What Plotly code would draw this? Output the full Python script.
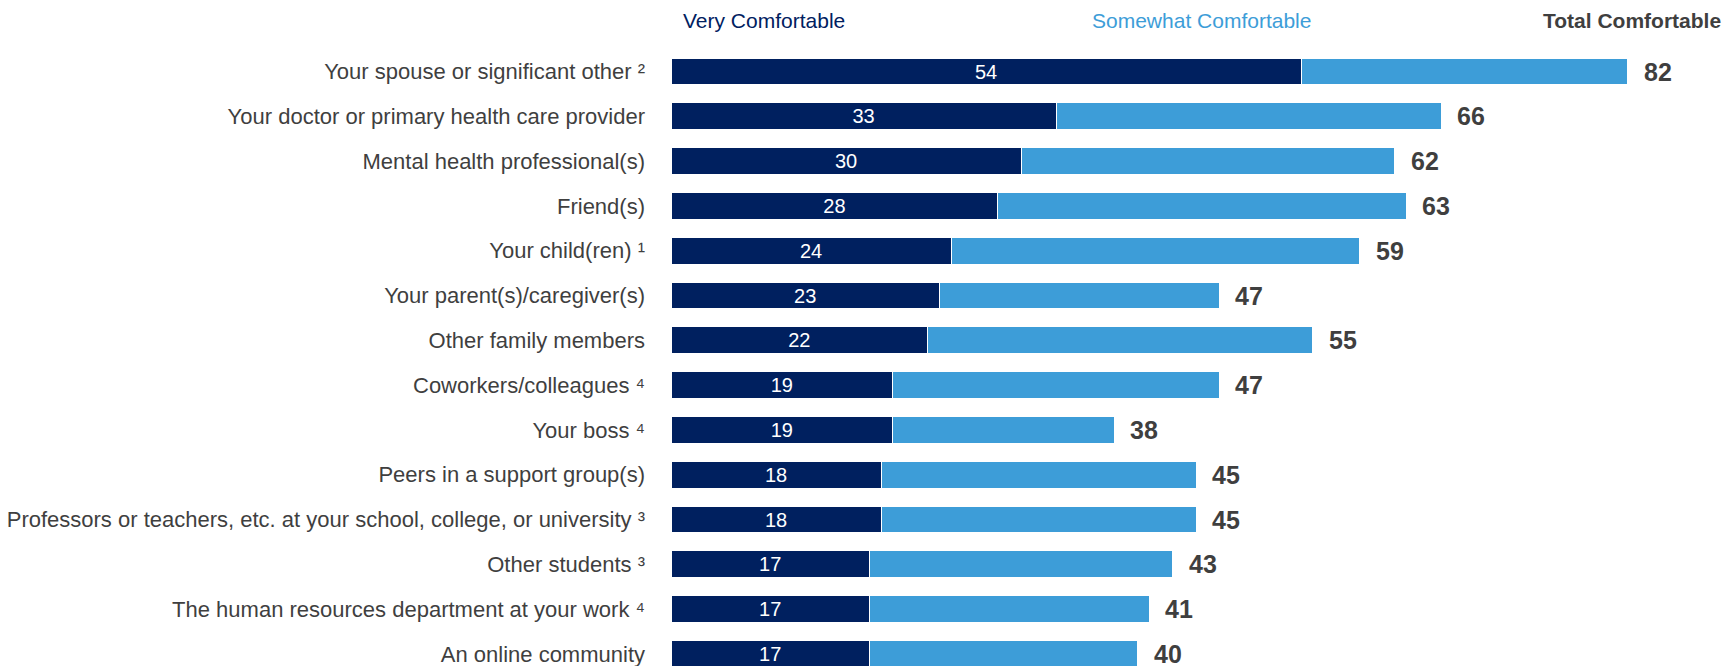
import plotly.graph_objects as go

# Survey groups, top to bottom
groups = [
    "Your spouse or significant other ²",
    "Your doctor or primary health care provider",
    "Mental health professional(s)",
    "Friend(s)",
    "Your child(ren) ¹",
    "Your parent(s)/caregiver(s)",
    "Other family members",
    "Coworkers/colleagues ⁴",
    "Your boss ⁴",
    "Peers in a support group(s)",
    "Professors or teachers, etc. at your school, college, or university ³",
    "Other students ³",
    "The human resources department at your work ⁴",
    "An online community",
]
very_comfortable = [54, 33, 30, 28, 24, 23, 22, 19, 19, 18, 18, 17, 17, 17]
total_comfortable = [82, 66, 62, 63, 59, 47, 55, 47, 38, 45, 45, 43, 41, 40]
somewhat_comfortable = [t - v for t, v in zip(total_comfortable, very_comfortable)]

NAVY = "#00205F"
LIGHT = "#3D9DD8"
DARK = "#3F3F3F"
FONT = "Liberation Sans, Arial, sans-serif"

W, H = 1723, 666
TOP = 40
plot_left = 671

fig = go.Figure()
fig.add_trace(go.Bar(
    y=groups, x=very_comfortable, orientation="h", name="Very Comfortable",
    marker=dict(color=NAVY, line=dict(color="white", width=1)),
    width=0.6,
    text=very_comfortable, textposition="inside", insidetextanchor="middle",
    textangle=0, constraintext="none",
    textfont=dict(color="white", size=20, family=FONT),
    hoverinfo="skip",
))
fig.add_trace(go.Bar(
    y=groups, x=somewhat_comfortable, orientation="h", name="Somewhat Comfortable",
    marker=dict(color=LIGHT, line=dict(color="white", width=1)),
    width=0.6, hoverinfo="skip",
))

# Total values to the right of each bar
annotations = []
for g, t in zip(groups, total_comfortable):
    annotations.append(dict(
        x=t, y=g, xref="x", yref="y", text=str(t), showarrow=False,
        xanchor="left", yanchor="middle", xshift=14,
        font=dict(size=25, color=DARK, family=FONT, weight="bold"),
    ))

# Column headers above the bars (pixel centres converted to domain fractions)
header_y = 1 + (TOP - 20) / (H - TOP)
annotations += [
    dict(x=(764 - plot_left) / (W - plot_left), y=header_y, xref="x domain", yref="paper",
         text="Very Comfortable", showarrow=False, xanchor="center", yanchor="middle",
         font=dict(size=21, color=NAVY, family=FONT)),
    dict(x=(1201 - plot_left) / (W - plot_left), y=header_y, xref="x domain", yref="paper",
         text="Somewhat Comfortable", showarrow=False, xanchor="center", yanchor="middle",
         font=dict(size=21, color=LIGHT, family=FONT)),
    dict(x=1.0, y=header_y, xref="paper", yref="paper", text="Total Comfortable",
         showarrow=False, xanchor="right", yanchor="middle",
         font=dict(size=21, color=DARK, family=FONT, weight="bold")),
]

row_px = 44.8
first_row_px = 71.5
r_top = -(first_row_px - TOP) / row_px
r_bottom = r_top + (H - TOP) / row_px

fig.update_layout(
    width=W, height=H,
    margin=dict(l=plot_left, r=0, t=TOP, b=0, pad=0),
    barmode="stack", bargap=0.4,
    showlegend=False,
    plot_bgcolor="white", paper_bgcolor="white",
    font=dict(family=FONT, color=DARK),
    annotations=annotations,
    xaxis=dict(range=[0, (W - plot_left) / 11.67], visible=False, fixedrange=True),
    yaxis=dict(
        type="category", categoryorder="array", categoryarray=groups,
        range=[r_bottom, r_top], showgrid=False, zeroline=False, showline=False,
        ticks="", ticklabelstandoff=25,
        tickfont=dict(size=22, color=DARK, family=FONT),
    ),
)

fig.write_html("out.html")
